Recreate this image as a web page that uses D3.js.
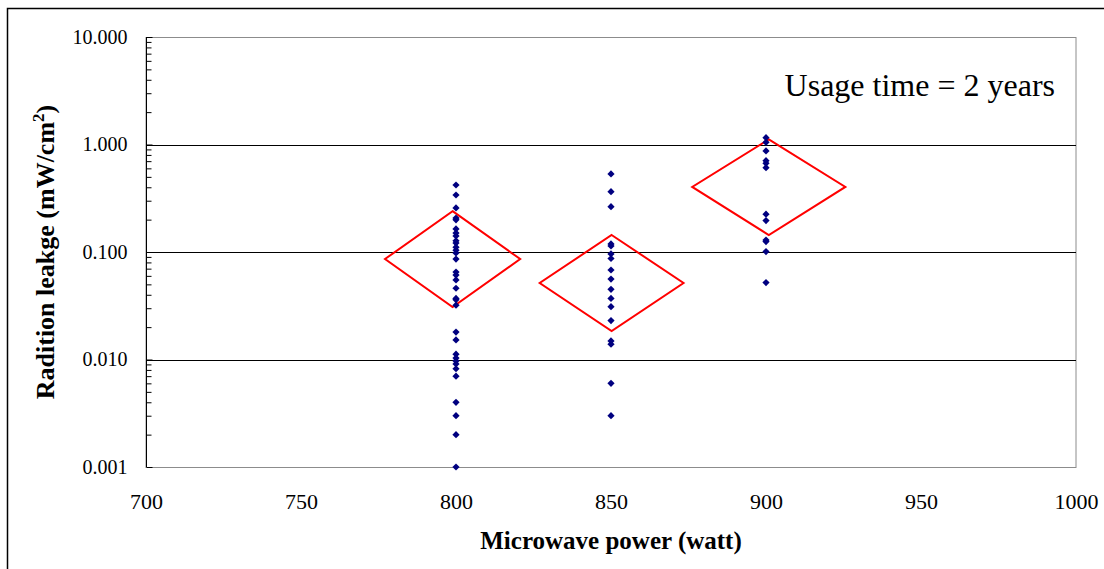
<!DOCTYPE html>
<html>
<head>
<meta charset="utf-8">
<script src="https://cdn.jsdelivr.net/npm/d3@7"></script>
<style>
  body { margin: 0; background: #fff; }
  #root { width: 1104px; height: 569px; }
  text { font-family: "Times New Roman", "Liberation Serif", serif; fill: #000; }
</style>
</head>
<body>
<div id="root"></div>
<script>
// Data
const powerLevels = [800, 850, 900];
const leakage800 = [0.42, 0.339, 0.257, 0.207, 0.199, 0.164, 0.150, 0.141, 0.127, 0.121, 0.111, 0.104, 0.098,
                    0.086, 0.065, 0.061, 0.055, 0.046, 0.037, 0.036, 0.032,
                    0.018, 0.0152, 0.0112, 0.0103, 0.0097, 0.0091, 0.0082, 0.0070, 0.004, 0.003, 0.002, 0.001];
const leakage850 = [0.532, 0.364, 0.264, 0.119, 0.114, 0.096, 0.087, 0.068, 0.056, 0.045, 0.037, 0.031, 0.023,
                    0.0149, 0.0139, 0.006, 0.003];
const leakage900 = [1.157, 1.047, 0.871, 0.707, 0.668, 0.608, 0.225, 0.196, 0.129, 0.125, 0.101, 0.052];
const leakageSets = [leakage800, leakage850, leakage900];

// red diamonds: centre (watt), half width (watt), mean, upper, lower
const diamondCenter = [798.9, 850.2, 900.9];
const diamondHalf = [21.8, 23.2, 24.7];
const diamondMean = [0.086, 0.0515, 0.403];
const diamondUpper = [0.240, 0.144, 1.117];
const diamondLower = [0.0308, 0.0184, 0.144];

const xTicks = [700, 750, 800, 850, 900, 950, 1000];
const yTicks = [0.001, 0.01, 0.1, 1, 10];

const root = document.getElementById('root');
const W = 1104, H = 569;
const plot = { left: 146, top: 37, right: 1076, bottom: 467 };
const serif = '"Times New Roman", "Liberation Serif", serif';

const svg = d3.select(root).append('svg')
    .attr('width', W)
    .attr('height', H);

// outer chart frame (runs off the right/bottom edge)
svg.append('rect')
    .attr('x', 7.5).attr('y', 8.5)
    .attr('width', 1200).attr('height', 700)
    .attr('fill', 'none')
    .attr('stroke', '#000')
    .attr('stroke-width', 1.5);

const x = d3.scaleLinear().domain([700, 1000]).range([plot.left, plot.right]);
const y = d3.scaleLog().domain([0.001, 10]).range([plot.bottom, plot.top]);

// plot area border
svg.append('rect')
    .attr('x', plot.left).attr('y', plot.top + 0.5)
    .attr('width', plot.right - plot.left).attr('height', plot.bottom - plot.top)
    .attr('fill', 'none')
    .attr('stroke', '#8c8c8c');

// gridlines
svg.append('g')
    .selectAll('line')
    .data(yTicks.slice(1, -1))
    .enter().append('line')
    .attr('x1', plot.left).attr('x2', plot.right)
    .attr('y1', d => Math.round(y(d)) + 0.5)
    .attr('y2', d => Math.round(y(d)) + 0.5)
    .attr('stroke', '#000');

// y axis: minor ticks (inward)
const minorVals = [];
[0.001, 0.01, 0.1, 1].forEach(e => { for (let k = 2; k <= 9; k++) minorVals.push(k * e); });
svg.append('g')
    .attr('transform', `translate(${plot.left + 0.5},0)`)
    .call(d3.axisLeft(y).tickValues(minorVals).tickSize(-5).tickFormat(''))
    .call(g => g.select('.domain').remove())
    .selectAll('line').attr('stroke', '#000');

// y axis: major ticks + labels
const yAxisG = svg.append('g')
    .attr('transform', `translate(${plot.left + 0.5},0)`)
    .call(d3.axisLeft(y).tickValues(yTicks).tickSize(-6).tickPadding(19).tickFormat(d3.format('.3f')));
yAxisG.select('.domain').attr('stroke', '#000').attr('d', `M0,${plot.top}V${plot.bottom}`);
yAxisG.selectAll('text').style('font-size', '20px').style('font-family', serif);

// x axis labels
const xAxisG = svg.append('g')
    .attr('transform', `translate(0,${plot.bottom})`)
    .call(d3.axisBottom(x).tickValues(xTicks).tickSize(0).tickPadding(26).tickFormat(d3.format('d')));
xAxisG.select('.domain').remove();
xAxisG.selectAll('text').style('font-size', '22px').style('font-family', serif);

// axis titles
svg.append('text')
    .attr('x', (plot.left + plot.right) / 2)
    .attr('y', 549)
    .attr('text-anchor', 'middle')
    .style('font-size', '25px')
    .attr('font-weight', 'bold')
    .text('Microwave power (watt)');

const yTitle = svg.append('text')
    .attr('transform', `translate(54,${(plot.top + plot.bottom) / 2}) rotate(-90)`)
    .attr('text-anchor', 'middle')
    .style('font-size', '26px')
    .attr('font-weight', 'bold');
yTitle.append('tspan').text('Radition leakge (mW/cm');
yTitle.append('tspan').style('font-size', '17px').attr('dy', -10).text('2');
yTitle.append('tspan').attr('dy', 10).text(')');

// annotation
svg.append('text')
    .attr('x', 1055)
    .attr('y', 96)
    .attr('text-anchor', 'end')
    .style('font-size', '32px')
    .text('Usage time = 2 years');

// red diamonds
const diamondLine = d3.line().x(d => x(d[0])).y(d => y(d[1]));
svg.append('g')
    .selectAll('path')
    .data(powerLevels.map((p, i) => i))
    .enter().append('path')
    .attr('d', i => diamondLine([
        [diamondCenter[i], diamondUpper[i]],
        [diamondCenter[i] + diamondHalf[i], diamondMean[i]],
        [diamondCenter[i], diamondLower[i]],
        [diamondCenter[i] - diamondHalf[i], diamondMean[i]]
    ]) + 'Z')
    .attr('fill', 'none')
    .attr('stroke', '#ff0000')
    .attr('stroke-width', 2);

// data points
const points = [];
powerLevels.forEach((p, i) => leakageSets[i].forEach(v => points.push({ p: p, v: v })));
const marker = d3.symbol(d3.symbolSquare, 26);
svg.append('g')
    .selectAll('path')
    .data(points)
    .enter().append('path')
    .attr('d', marker)
    .attr('transform', d => `translate(${x(d.p)},${y(d.v)}) rotate(45)`)
    .attr('fill', '#000080');
</script>
</body>
</html>
